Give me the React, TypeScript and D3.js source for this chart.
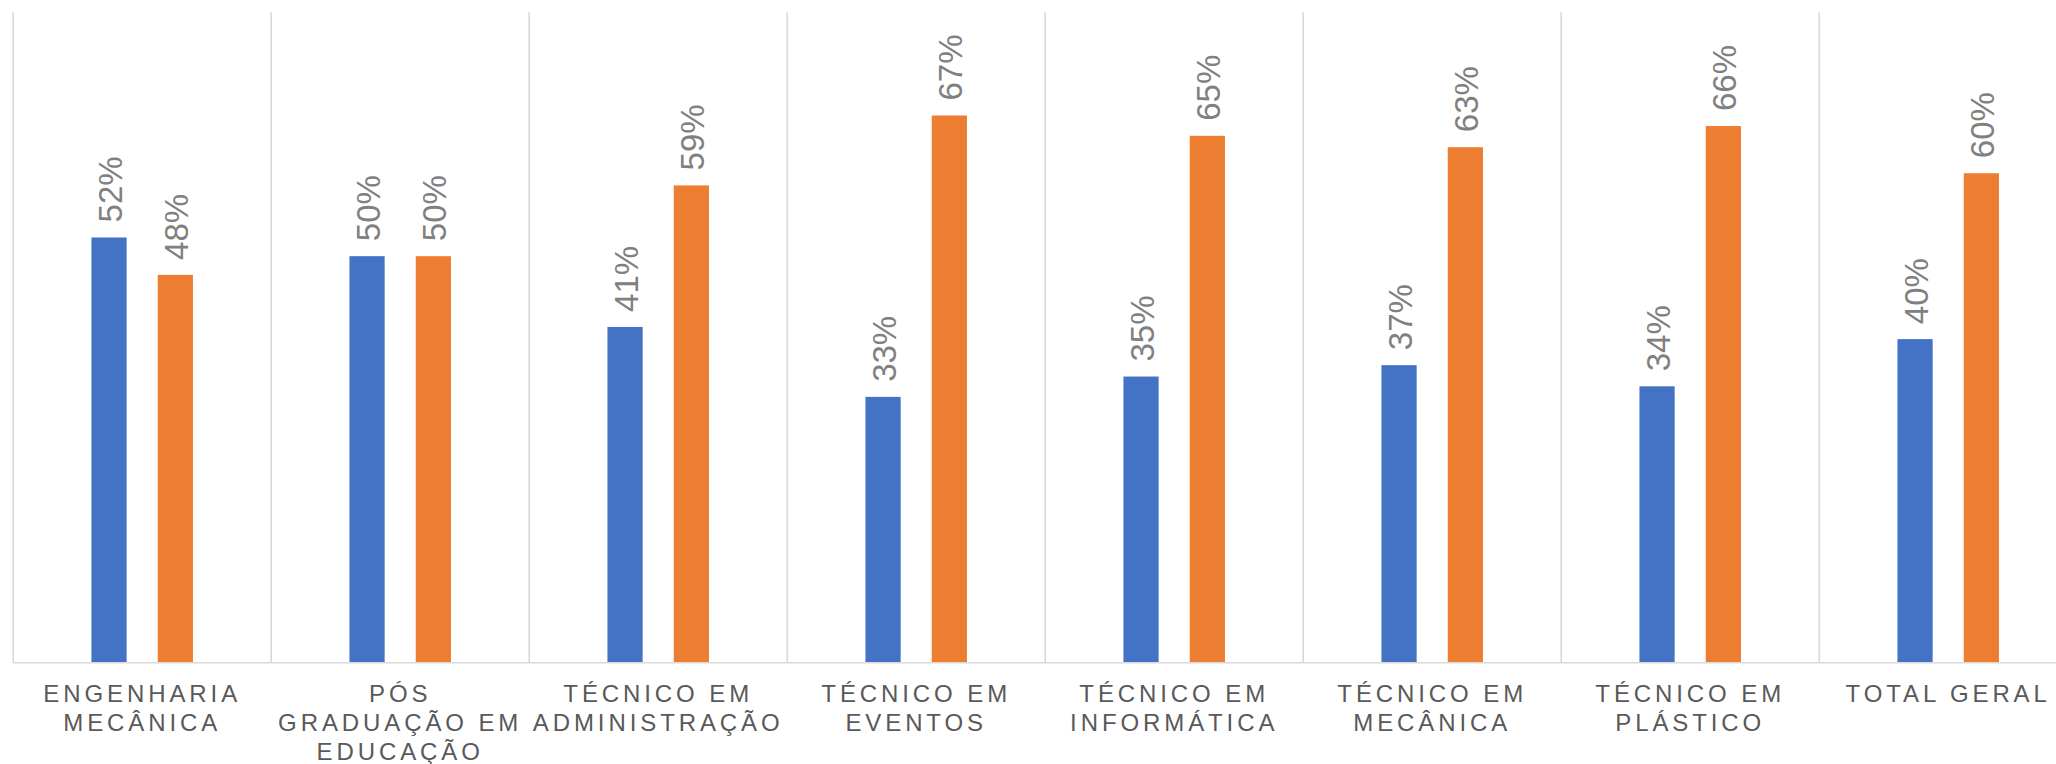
import React from "react";
import * as d3 from "d3";

const categories = [
  "ENGENHARIA MECÂNICA",
  "PÓS GRADUAÇÃO EM EDUCAÇÃO",
  "TÉCNICO EM ADMINISTRAÇÃO",
  "TÉCNICO EM EVENTOS",
  "TÉCNICO EM INFORMÁTICA",
  "TÉCNICO EM MECÂNICA",
  "TÉCNICO EM PLÁSTICO",
  "TOTAL GERAL",
];

const categoryLines = [
  ["ENGENHARIA", "MECÂNICA"],
  ["PÓS", "GRADUAÇÃO EM", "EDUCAÇÃO"],
  ["TÉCNICO EM", "ADMINISTRAÇÃO"],
  ["TÉCNICO EM", "EVENTOS"],
  ["TÉCNICO EM", "INFORMÁTICA"],
  ["TÉCNICO EM", "MECÂNICA"],
  ["TÉCNICO EM", "PLÁSTICO"],
  ["TOTAL GERAL"],
];

const seriesNames = ["Série 1", "Série 2"];
const seriesA = [0.523, 0.5, 0.413, 0.327, 0.352, 0.366, 0.34, 0.398];
const seriesB = [0.477, 0.5, 0.587, 0.673, 0.648, 0.634, 0.66, 0.602];
const seriesColors = ["#4472C4", "#ED7D31"];

const W = 2056;
const H = 764;
const left = 13.2;
const step = 258;
const top = 12.2;
const base = 662.8;

export default function App() {
  const x = d3
    .scaleBand<string>()
    .domain(categories)
    .range([left, left + step * categories.length])
    .padding(0);
  const bw = x.bandwidth();
  const groupW = 101.5;
  const xi = d3
    .scaleBand<string>()
    .domain(seriesNames)
    .range([bw / 2 - groupW / 2, bw / 2 + groupW / 2])
    .paddingInner(0.469)
    .paddingOuter(0);
  const y = d3.scaleLinear().domain([0, 0.8]).range([base, top]);
  const fmt = d3.format(".0%");
  const series = [seriesA, seriesB];

  const boundaries = d3.range(categories.length + 1).map((i) =>
    i < categories.length ? (x(categories[i]) as number) : (x(categories[i - 1]) as number) + bw
  );

  return (
    <div style={{ position: "absolute", left: 0, top: 0, width: W, height: H, overflow: "hidden", background: "#fff" }}>
      <svg width={W} height={H} style={{ display: "block", fontFamily: "'Liberation Sans', Arial, sans-serif" }}>
        {boundaries.map((bx, i) => (
          <line key={"g" + i} x1={bx} x2={bx} y1={top} y2={base} stroke="#d9d9d9" strokeWidth={1.6} />
        ))}
        {categories.map((c, ci) =>
          series.map((s, si) => {
            const bx = (x(c) as number) + (xi(seriesNames[si]) as number);
            const w = xi.bandwidth();
            const yv = y(s[ci]);
            return (
              <g key={c + si}>
                <rect x={bx} y={yv} width={w} height={base - yv} fill={seriesColors[si]} />
                <text
                  transform={`translate(${bx + w / 2},${yv - 15}) rotate(-90)`}
                  dy={12.5}
                  fontSize={33}
                  fill="#808080"
                  textAnchor="start"
                >
                  {fmt(s[ci])}
                </text>
              </g>
            );
          })
        )}
        <line x1={left} x2={W} y1={base} y2={base} stroke="#d9d9d9" strokeWidth={1.6} />
        {categories.map((c, ci) => (
          <text
            key={"l" + c}
            x={(x(c) as number) + bw / 2}
            y={702}
            fontSize={24}
            fill="#595959"
            textAnchor="middle"
            letterSpacing={3.9}
          >
            {categoryLines[ci].map((ln, li) => (
              <tspan key={li} x={(x(c) as number) + bw / 2} y={702 + li * 29}>
                {ln}
              </tspan>
            ))}
          </text>
        ))}
      </svg>
    </div>
  );
}
